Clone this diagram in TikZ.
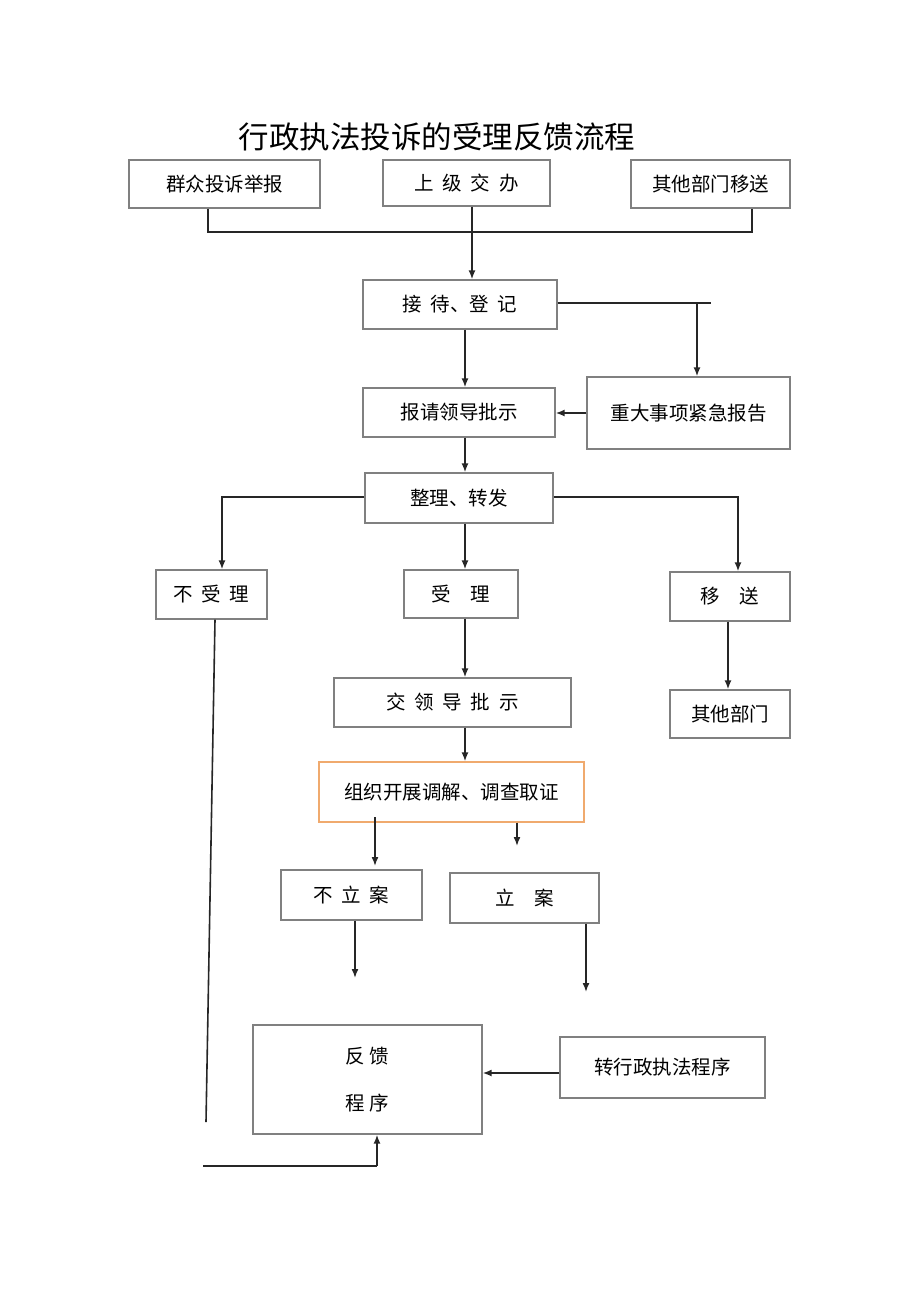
\documentclass[tikz,border=0pt]{standalone}
\usepackage{fontspec}
\setmainfont{Noto Sans CJK SC}
\usepackage {tikz}
\usetikzlibrary {positioning,arrows.meta}
\definecolor {boxgray}{RGB}{128,128,128}
\definecolor {boxorange}{RGB}{240,170,110}

\begin{document}
\begin{tikzpicture}[x=1pt,y=-1pt,->,>={Latex[length=9pt,width=7pt]}]
  \tikzstyle{box}=[rectangle, draw=boxgray, line width=1.3pt, text=black, inner sep=0pt, font=\fontsize{19.5}{23}\selectfont]
  \tikzstyle{link}=[line width=1.6pt, black!85]
  \useasboundingbox (0,0) rectangle (920,1301);

  \node (title) at (437,137) {\fontsize{30.5}{34}\selectfont 行政执法投诉的受理反馈流程};

  \node[box, minimum width=191pt, minimum height=48pt] (S_1) at (224.5,184) {群众投诉举报};
  \node[box, minimum width=167pt, minimum height=46pt] (S_2) at (466.5,183) {上\ \ 级\ \ 交\ \ 办};
  \node[box, minimum width=159pt, minimum height=48pt] (S_3) at (710.5,184) {其他部门移送};
  \node[box, minimum width=194pt, minimum height=49pt] (R) at (460,304.5) {接\ \ 待、登\ \ 记};
  \node[box, minimum width=192pt, minimum height=49pt] (L) at (459,412.5) {报请领导批示};
  \node[box, minimum width=203pt, minimum height=72pt] (U) at (688.5,413) {重大事项紧急报告};
  \node[box, minimum width=188pt, minimum height=50pt] (D) at (459,498) {整理、转发};
  \node[box, minimum width=111pt, minimum height=49pt] (N) at (211.5,594.5) {不\ \ 受\ \ 理};
  \node[box, minimum width=114pt, minimum height=48pt] (A) at (461,594) {受\quad 理};
  \node[box, minimum width=120pt, minimum height=49pt] (T) at (730,596.5) {移\quad 送};
  \node[box, minimum width=120pt, minimum height=48pt] (O) at (730,714) {其他部门};
  \node[box, minimum width=237pt, minimum height=49pt] (J) at (452.5,702.5) {交\ \ 领\ \ 导\ \ 批\ \ 示};
  \node[box, draw=boxorange, minimum width=265pt, minimum height=60pt] (M) at (451.5,792) {组织开展调解、调查取证};
  \node[box, minimum width=141pt, minimum height=50pt] (C_1) at (351.5,895) {不\ \ 立\ \ 案};
  \node[box, minimum width=149pt, minimum height=50pt] (C_2) at (524.5,898) {立\quad 案};
  \node[box, minimum width=229pt, minimum height=109pt, align=center] (F) at (367.5,1079.5) {反\ 馈\\[24pt]程\ 序};
  \node[box, minimum width=205pt, minimum height=61pt] (P) at (662.5,1067.5) {转行政执法程序};

  % free ends
  \coordinate (j_1) at (208,232);
  \coordinate (j_2) at (752,232);
  \coordinate (j_3) at (472,232);
  \coordinate (r_1) at (711,303);
  \coordinate (r_2) at (697,303);
  \coordinate (d_1) at (222,497);
  \coordinate (d_2) at (738,497);
  \coordinate (m_1) at (375,866);
  \coordinate (m_2) at (517,846);
  \coordinate (c_1) at (355,978);
  \coordinate (c_2) at (586,992);
  \coordinate (n_1) at (206,1122);
  \coordinate (f_1) at (203,1166);
  \coordinate (f_2) at (377,1166);

  \draw[link,-] (S_1.south -| j_1) |- (j_2) -- (S_3.south -| j_2);
  \draw[link,-] (S_2.south -| j_3) -- (j_3);
  \draw[link] (j_3) -- (R.north -| j_3);

  \draw[link,-] (R.east |- r_1) -- (r_1);
  \draw[link] (r_2) -- (U.north -| r_2);
  \draw[link] (R.south -| 465,0) -- (L.north -| 465,0);
  \draw[link] (U.west |- 0,413) -- (L.east |- 0,413);
  \draw[link] (L.south -| 465,0) -- (D.north -| 465,0);

  \draw[link] (D.west |- d_1) -| (N.north -| d_1);
  \draw[link] (D.east |- d_2) -| (T.north -| d_2);
  \draw[link] (D.south -| 465,0) -- (A.north -| 465,0);
  \draw[link] (T.south -| 728,0) -- (O.north -| 728,0);
  \draw[link] (A.south -| 465,0) -- (J.north -| 465,0);
  \draw[link] (J.south -| 465,0) -- (M.north -| 465,0);

  \draw[link] (375,817) -- (m_1);
  \draw[link] (M.south -| m_2) -- (m_2);
  \draw[link] (C_1.south -| c_1) -- (c_1);
  \draw[link] (C_2.south -| c_2) -- (c_2);

  \draw[link] (P.west |- 0,1073) -- (F.east |- 0,1073);
  \draw[link,-] (N.south -| 215,0) -- (n_1);
  \draw[link,-] (f_1) -- (f_2);
  \draw[link] (f_2) -- (F.south -| f_2);
\end{tikzpicture}
\end{document}
